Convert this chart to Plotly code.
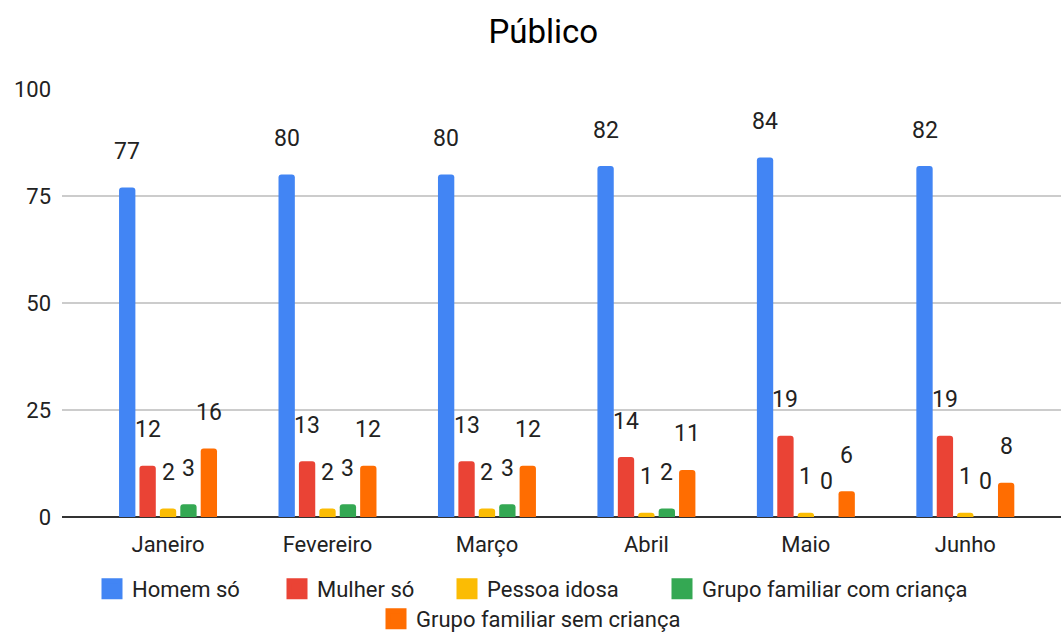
import plotly.graph_objects as go

months = ["Janeiro", "Fevereiro", "Março", "Abril", "Maio", "Junho"]
series_names = ["Homem só", "Mulher só", "Pessoa idosa",
                "Grupo familiar com criança", "Grupo familiar sem criança"]
homem_so = [77, 80, 80, 82, 84, 82]
mulher_so = [12, 13, 13, 14, 19, 19]
pessoa_idosa = [2, 2, 2, 1, 1, 1]
familia_com_crianca = [3, 3, 3, 2, 0, 0]
familia_sem_crianca = [16, 12, 12, 11, 6, 8]
y_ticks = [0, 25, 50, 75, 100]

series_values = [homem_so, mulher_so, pessoa_idosa, familia_com_crianca, familia_sem_crianca]
colors = ["#4285F4", "#EA4335", "#FBBC04", "#34A853", "#FF6D01"]

FONT = "Roboto, Arial, sans-serif"
W, H = 1061, 636
ML, MR, MT, MB = 62, 0, 89, 119
X_RANGE = [-0.665, 5.6]
BARGAP = 0.36
BARGROUPGAP = 0.2
TXT = "#222222"

plot_w = W - ML - MR
plot_h = H - MT - MB

# legend swatch centres (px) for each entry, and row centres (px)
legend_sym_x = [112, 297, 467, 682, 396]
legend_row_y = [589, 589, 589, 589, 619]

fig = go.Figure()
for i, (name, vals, col) in enumerate(zip(series_names, series_values, colors)):
    fig.add_trace(go.Bar(
        x=months, y=vals, name=name, marker_color=col,
        marker_line_width=0, showlegend=False, hoverinfo="skip",
    ))
# legend entries with larger square swatches, one legend per entry
legend_layouts = {}
for i, (name, col) in enumerate(zip(series_names, colors)):
    key = "legend" if i == 0 else f"legend{i + 1}"
    fig.add_trace(go.Scatter(
        x=[None], y=[None], mode="markers", name=name,
        marker=dict(symbol="square", size=16, color=col,
                    line=dict(color=col, width=5)),
        legend=key, hoverinfo="skip",
    ))
    legend_layouts[key] = dict(
        orientation="h", xanchor="left", yanchor="middle",
        x=(legend_sym_x[i] - 20 - ML) / plot_w,
        y=(H - MB - legend_row_y[i]) / plot_h,
        font=dict(family=FONT, size=22, color=TXT),
        itemclick=False, itemdoubleclick=False, itemsizing="trace",
        borderwidth=0, bgcolor="rgba(0,0,0,0)",
    )

# value labels above bars (offset per series within each group)
cat_px = plot_w / (X_RANGE[1] - X_RANGE[0])
slot_px = cat_px * (1 - BARGAP) / len(series_names)
annotations = []
for j, vals in enumerate(series_values):
    for m, v in zip(months, vals):
        annotations.append(dict(
            x=m, y=v, xref="x", yref="y", text=str(v), showarrow=False,
            xshift=(j - (len(series_names) - 1) / 2) * slot_px, yshift=36,
            yanchor="middle", xanchor="center",
            font=dict(family=FONT, size=23, color=TXT),
        ))

fig.update_layout(
    width=W, height=H,
    margin=dict(l=ML, r=MR, t=MT, b=MB, autoexpand=False),
    paper_bgcolor="white", plot_bgcolor="white",
    barmode="group", bargap=BARGAP, bargroupgap=BARGROUPGAP,
    barcornerradius=3,
    title=dict(text="Público", x=0.512, xanchor="center", y=0.95, yanchor="middle",
               font=dict(family=FONT, size=33, color="#000000")),
    font=dict(family=FONT, color=TXT),
    xaxis=dict(range=X_RANGE, showgrid=False, ticks="", showline=False,
               ticklabelstandoff=12,
               tickfont=dict(family=FONT, size=22, color=TXT)),
    yaxis=dict(range=[0, 100], tickvals=y_ticks, showgrid=True,
               gridcolor="#cccccc", gridwidth=1.5,
               zeroline=True, zerolinecolor="#333333", zerolinewidth=2,
               ticks="", ticklabelstandoff=10,
               tickfont=dict(family=FONT, size=22, color=TXT)),
    annotations=annotations,
    showlegend=True,
    **legend_layouts,
)

fig.write_html("out.html")
